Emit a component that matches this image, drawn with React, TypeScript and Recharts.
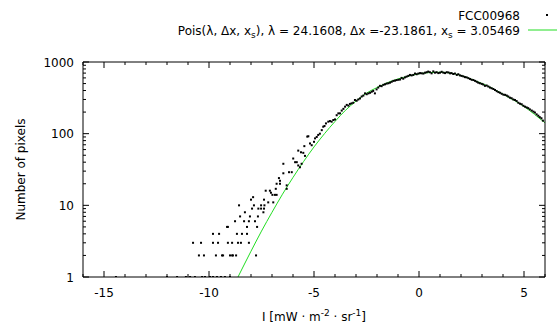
import React from 'react';
import { ComposedChart, Scatter, Line, XAxis, YAxis } from 'recharts';

// ---- data ----
const scatterX = [
  -14.43, -12.0, -11.52, -11.1, -10.9, -10.76, -10.67, -10.48, -10.38, -10.33, -10.24, -10.19,
  -9.95, -9.81, -9.81, -9.81, -9.67, -9.62, -9.57, -9.52, -9.43, -9.38, -9.33, -9.24, -9.14,
  -9.1, -9.1, -9.0, -9.0, -8.9, -8.9, -8.86, -8.76, -8.71, -8.67, -8.62, -8.57, -8.52, -8.48,
  -8.43, -8.33, -8.29, -8.19, -8.19, -8.1, -8.1, -8.05, -8.0, -7.95, -7.9, -7.86, -7.81, -7.76,
  -7.71, -7.67, -7.65, -7.52, -7.52, -7.41, -7.38, -7.38, -7.36, -7.3, -7.18, -7.1, -7.05,
  -6.98, -6.94, -6.86, -6.82, -6.78, -6.78, -6.67, -6.62, -6.62, -6.46, -6.46, -6.3, -6.3,
  -6.19, -6.06, -5.99, -5.9, -5.82, -5.75, -5.75, -5.67, -5.62, -5.59, -5.51, -5.46, -5.43,
  -5.32, -5.27, -5.19, -5.11, -5.0, -4.95, -4.87, -4.8, -4.72, -4.63, -4.56, -4.5, -4.43,
  -4.32, -4.24, -4.16, -4.08, -4.0, -3.92, -3.84, -3.76, -3.68, -3.6, -3.52, -3.44, -3.36,
  -3.29, -3.21, -3.13, -3.05, -2.97, -2.89, -2.81, -2.73, -2.65, -2.57, -2.49, -2.41, -2.33,
  -2.25, -2.18, -2.1, -2.02, -1.94, -1.86, -1.78, -1.7, -1.62, -1.54, -1.46, -1.38, -1.3,
  -1.22, -1.14, -1.06, -0.98, -0.9, -0.83, -0.75, -0.67, -0.59, -0.51, -0.43, -0.35, -0.27,
  -0.19, -0.11, -0.03, 0.05, 0.13, 0.21, 0.29, 0.37, 0.44, 0.52, 0.6, 0.68, 0.76, 0.84, 0.92,
  1.0, 1.08, 1.16, 1.24, 1.32, 1.4, 1.48, 1.55, 1.63, 1.71, 1.8, 1.87, 1.95, 2.03, 2.11, 2.19,
  2.27, 2.35, 2.43, 2.51, 2.59, 2.67, 2.75, 2.82, 2.9, 2.99, 3.06, 3.14, 3.22, 3.3, 3.38, 3.46,
  3.54, 3.62, 3.7, 3.78, 3.86, 3.94, 4.02, 4.1, 4.18, 4.25, 4.33, 4.41, 4.49, 4.57, 4.65, 4.73,
  4.81, 4.89, 4.97, 5.05, 5.13, 5.2, 5.28, 5.37, 5.45, 5.52, 5.6, 5.68, 5.75, 5.83, 5.9,
];
const scatterY = [
  1, 1, 1, 1, 1, 3, 1, 2, 3, 1, 2, 1,
  1, 1, 3, 4, 2, 1, 3, 4, 1, 2, 2, 1, 5,
  3, 5, 1, 2, 2, 3, 2, 6, 2, 4, 3, 10, 7, 3,
  4, 6, 8, 4, 5, 3, 6, 7, 12, 9, 13, 10, 6, 2,
  5, 7, 9, 9, 10, 8, 9, 12, 10, 16, 11, 16, 15,
  14, 11, 14, 17, 14, 20, 24, 20, 22, 28, 38, 17, 19,
  29, 29, 45, 40, 40, 36, 58, 34, 55, 38, 54, 67, 49,
  91, 92, 73, 69, 77, 86, 90, 96, 100, 112, 125, 128, 139,
  147, 150, 147, 155, 158, 181, 192, 192, 210, 222, 238, 252, 246,
  260, 265, 270, 295, 288, 300, 310, 330, 340, 365, 355, 365, 372,
  385, 395, 365, 415, 440, 465, 460, 480, 488, 500, 505, 515, 530,
  545, 550, 560, 565, 570, 600, 585, 610, 625, 640, 660, 650, 660,
  690, 675, 690, 700, 695, 690, 710, 720, 735, 720, 695, 740, 710, 720, 700,
  710, 730, 710, 700, 720, 715, 695, 700, 680, 690, 660, 675, 650, 640, 630, 615,
  610, 595, 580, 565, 560, 545, 530, 515, 505, 495, 485, 465, 470, 455, 440, 430,
  420, 407, 392, 380, 372, 360, 350, 348, 340, 330, 318, 312, 300, 295, 285, 270,
  262, 257, 245, 238, 232, 227, 218, 210, 203, 197, 186, 178, 170, 164, 152,
];

const fitX = [
  -8.62, -8.0, -7.5, -7.0, -6.5, -6.0, -5.5, -5.0, -4.5, -4.0, -3.5, -3.0, -2.5, -2.0, -1.5,
  -1.0, -0.5, 0, 0.5, 1.0, 1.5, 2.0, 2.5, 3.0, 3.5, 4.0, 4.5, 5.0, 5.5, 6.0,
];
const fitY = [
  1, 2.29, 4.37, 8.0, 14.3, 24.5, 40.7, 65.3, 100, 148, 212, 285, 368, 440, 515,
  580, 635, 685, 712, 720, 702, 648, 575, 501, 429, 356, 295, 240, 186, 142,
];

const xTicks = [-16, -15, -14, -13, -12, -11, -10, -9, -8, -7, -6, -5, -4, -3, -2, -1, 0, 1, 2, 3, 4, 5, 6];
const xMajorTicks = [-15, -10, -5, 0, 5];
const yTicks = [
  1, 2, 3, 4, 5, 6, 7, 8, 9, 10, 20, 30, 40, 50, 60, 70, 80, 90,
  100, 200, 300, 400, 500, 600, 700, 800, 900, 1000,
];
const yMajorTicks = [1, 10, 100, 1000];

const legendName = 'FCC00968';
const xTitle = ['I [mW · m', '-2', ' · sr', '-1', ']'];
const yTitle = 'Number of pixels';

// ---- styling ----
const FONT = 'DejaVu Sans';
const GREEN = '#22dd22';
const W = 557;
const H = 327;
const MAJOR = 6;
const MINOR = 3;

const scatterData = scatterX.map((x, i) => ({ x, y: scatterY[i] }));
const fitData = fitX.map((x, i) => ({ x, y: fitY[i] }));

const BottomTick = (p: any) => {
  const major = xMajorTicks.includes(p.payload.value);
  return (
    <g>
      <line x1={p.x} x2={p.x} y1={p.y} y2={p.y - (major ? MAJOR : MINOR)} stroke="#000" />
      {major && (
        <text x={p.x} y={p.y + 20} textAnchor="middle" fontSize={12} fontFamily={FONT} fill="#000">
          {String(p.payload.value)}
        </text>
      )}
    </g>
  );
};

const TopTick = (p: any) => {
  const major = xMajorTicks.includes(p.payload.value);
  return <line x1={p.x} x2={p.x} y1={p.y} y2={p.y + (major ? MAJOR : MINOR)} stroke="#000" />;
};

const LeftTick = (p: any) => {
  const major = yMajorTicks.includes(p.payload.value);
  return (
    <g>
      <line x1={p.x} x2={p.x + (major ? MAJOR : MINOR)} y1={p.y} y2={p.y} stroke="#000" />
      {major && (
        <text x={p.x - 9} y={p.y + 4.5} textAnchor="end" fontSize={12} fontFamily={FONT} fill="#000">
          {String(p.payload.value)}
        </text>
      )}
    </g>
  );
};

const RightTick = (p: any) => {
  const major = yMajorTicks.includes(p.payload.value);
  return <line x1={p.x} x2={p.x - (major ? MAJOR : MINOR)} y1={p.y} y2={p.y} stroke="#000" />;
};

const Dot = (p: any) => <rect x={p.cx - 1} y={p.cy - 1} width={2} height={2} fill="#000" />;

const LegendLabel = () => (
  <g fontFamily={FONT} fontSize={12} fill="#000">
    <text x={520} y={19.5} textAnchor="end">{legendName}</text>
    <rect x={546} y={14} width={2} height={2} fill="#000" />
    <text x={520} y={34.5} textAnchor="end">
      Pois(λ, Δx, x<tspan dy={3} fontSize={9}>s</tspan>
      <tspan dy={-3}>), λ = 24.1608, Δx =-23.1861, x</tspan>
      <tspan dy={3} fontSize={9}>s</tspan>
      <tspan dy={-3}> = 3.05469</tspan>
    </text>
    <line x1={528} x2={557} y1={30} y2={30} stroke={GREEN} />
  </g>
);

const XTitle = () => (
  <text x={314} y={321} textAnchor="middle" fontFamily={FONT} fontSize={12} fill="#000">
    {xTitle[0]}
    <tspan dy={-5} fontSize={9}>{xTitle[1]}</tspan>
    <tspan dy={5}>{xTitle[2]}</tspan>
    <tspan dy={-5} fontSize={9}>{xTitle[3]}</tspan>
    <tspan dy={5}>{xTitle[4]}</tspan>
  </text>
);

const YTitle = () => (
  <text
    x={0}
    y={0}
    transform="translate(24.5,169.5) rotate(-90)"
    textAnchor="middle"
    fontFamily={FONT}
    fontSize={12}
    fill="#000"
  >
    {yTitle}
  </text>
);

export default function App() {
  return (
    <div style={{ position: 'absolute', left: 0, top: 0, width: W, height: H, background: '#fff' }}>
      <ComposedChart width={W} height={H} margin={{ top: 61, right: 11, bottom: 20, left: 23 }}>
        <XAxis
          xAxisId="bottom"
          orientation="bottom"
          dataKey="x"
          type="number"
          domain={[-16, 6]}
          allowDataOverflow
          ticks={xTicks}
          interval={0}
          height={30}
          tickSize={0}
          tickMargin={0}
          tickLine={false}
          tick={<BottomTick />}
          axisLine={{ stroke: '#000' }}
          label={<XTitle />}
        />
        <XAxis
          xAxisId="top"
          orientation="top"
          dataKey="x"
          type="number"
          domain={[-16, 6]}
          allowDataOverflow
          ticks={xTicks}
          interval={0}
          height={1}
          tickSize={0}
          tickMargin={0}
          tickLine={false}
          tick={<TopTick />}
          axisLine={{ stroke: '#000' }}
          label={<LegendLabel />}
        />
        <YAxis
          yAxisId="left"
          orientation="left"
          type="number"
          scale="log"
          domain={[1, 1000]}
          allowDataOverflow
          ticks={yTicks}
          interval={0}
          width={60}
          tickSize={0}
          tickMargin={0}
          tickLine={false}
          tick={<LeftTick />}
          axisLine={{ stroke: '#000' }}
          label={<YTitle />}
        />
        <YAxis
          yAxisId="right"
          orientation="right"
          type="number"
          scale="log"
          domain={[1, 1000]}
          allowDataOverflow
          ticks={yTicks}
          interval={0}
          width={1}
          tickSize={0}
          tickMargin={0}
          tickLine={false}
          tick={<RightTick />}
          axisLine={{ stroke: '#000' }}
        />
        <Scatter
          data={scatterData}
          dataKey="y"
          xAxisId="bottom"
          yAxisId="left"
          shape={<Dot />}
          isAnimationActive={false}
        />
        <Line
          data={fitData}
          dataKey="y"
          xAxisId="top"
          yAxisId="right"
          type="monotone"
          stroke={GREEN}
          strokeWidth={1}
          dot={false}
          activeDot={false}
          isAnimationActive={false}
        />
      </ComposedChart>
    </div>
  );
}
